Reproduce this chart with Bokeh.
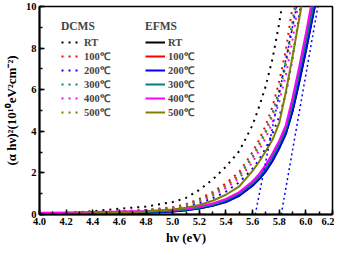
from bokeh.plotting import figure
from bokeh.models import Legend, LegendItem, Range1d, SingleIntervalTicker, PrintfTickFormatter
from bokeh.embed import file_html
from bokeh.resources import INLINE

X = [4.0, 4.2, 4.4, 4.6, 4.8, 5.0, 5.1, 5.2, 5.3, 5.4, 5.5, 5.6, 5.65, 5.7, 5.75,
     5.8, 5.85, 5.9, 5.95, 6.0, 6.05, 6.1]

labels = ["RT", "100℃", "200℃", "300℃", "400℃", "500℃"]
colors = ["#000000", "#ff0000", "#0000ff", "#008080", "#ff00ff", "#808000"]

dcms_rt = [0.0, 0.08, 0.16, 0.28, 0.38, 0.6, 0.8, 1.18, 1.68, 2.3, 3.05, 4.3, 5.2, 6.2, 7.5, 9.2, 11.2, 13, 15, 17, 19, 21]
dcms_100 = [0.02, 0.05, 0.09, 0.15, 0.22, 0.35, 0.5, 0.75, 1.08, 1.5, 2.05, 3.0, 3.6, 4.3, 5.2, 6.4, 7.9, 10.0, 12, 14, 16, 18]
dcms_200 = [0.01, 0.03, 0.06, 0.1, 0.16, 0.26, 0.36, 0.54, 0.78, 1.1, 1.55, 2.2, 2.65, 3.2, 3.9, 4.7, 5.8, 7.5, 9.6, 11.6, 13.6, 15.6]
dcms_300 = [0.02, 0.05, 0.08, 0.14, 0.21, 0.33, 0.46, 0.7, 1.0, 1.4, 1.92, 2.8, 3.4, 4.05, 4.9, 6.0, 7.4, 9.3, 11.3, 13.3, 15.3, 17.3]
dcms_400 = [0.04, 0.07, 0.1, 0.15, 0.2, 0.3, 0.42, 0.63, 0.9, 1.27, 1.75, 2.5, 3.1, 3.7, 4.45, 5.4, 6.7, 8.4, 10.4, 12.4, 14.4, 16.4]
dcms_500 = [0.03, 0.06, 0.09, 0.14, 0.2, 0.32, 0.45, 0.68, 0.97, 1.36, 1.86, 2.7, 3.3, 3.95, 4.75, 5.8, 7.2, 9.0, 11, 13, 15, 17]

efms_rt = [0.02, 0.03, 0.04, 0.06, 0.09, 0.14, 0.2, 0.29, 0.42, 0.6, 0.9, 1.38, 1.7, 2.08, 2.58, 3.18, 3.88, 4.95, 6.35, 7.85, 9.45, 11.0]
efms_100 = [0.05, 0.07, 0.08, 0.1, 0.13, 0.19, 0.25, 0.35, 0.49, 0.7, 1.02, 1.52, 1.86, 2.28, 2.82, 3.45, 4.15, 5.4, 6.9, 8.4, 10.0, 11.6]
efms_200 = [0.02, 0.03, 0.04, 0.06, 0.1, 0.15, 0.21, 0.3, 0.43, 0.62, 0.92, 1.4, 1.72, 2.1, 2.6, 3.2, 3.9, 5.0, 6.4, 7.9, 9.5, 11.1]
efms_300 = [0.05, 0.06, 0.07, 0.09, 0.12, 0.18, 0.24, 0.33, 0.47, 0.68, 1.0, 1.5, 1.83, 2.25, 2.78, 3.4, 4.1, 5.3, 6.8, 8.3, 9.85, 11.5]
efms_400 = [0.08, 0.1, 0.12, 0.14, 0.17, 0.22, 0.28, 0.38, 0.53, 0.75, 1.08, 1.6, 1.95, 2.4, 2.95, 3.55, 4.3, 5.6, 7.1, 8.7, 10.4, 12.2]
efms_500 = [0.03, 0.04, 0.06, 0.09, 0.14, 0.24, 0.33, 0.46, 0.66, 0.95, 1.35, 2.1, 2.55, 3.05, 3.6, 4.4, 5.9, 7.6, 9.4, 11.2, 13, 15]

tangent1_x = [5.62, 5.93]
tangent1_y = [0.0, 10.0]
tangent2_x = [5.815, 6.09]
tangent2_y = [0.0, 10.0]

dcms = [dcms_rt, dcms_100, dcms_200, dcms_300, dcms_400, dcms_500]
efms = [efms_rt, efms_100, efms_200, efms_300, efms_400, efms_500]

FONT = "Liberation Serif"

p = figure(width=334, height=250, output_backend="svg", toolbar_location=None,
           x_range=Range1d(4.0, 6.2), y_range=Range1d(0, 10),
           min_border_left=33, min_border_right=2, min_border_top=6, min_border_bottom=36)
p.xgrid.visible = False
p.ygrid.visible = False
p.outline_line_color = "black"
p.outline_line_width = 1.5

p.xaxis.ticker = SingleIntervalTicker(interval=0.2, num_minor_ticks=2)
p.yaxis.ticker = SingleIntervalTicker(interval=2, num_minor_ticks=2)
for ax in (p.xaxis, p.yaxis):
    ax.axis_line_width = 2
    ax.major_tick_in = 5
    ax.major_tick_out = 0
    ax.minor_tick_in = 3
    ax.minor_tick_out = 0
    ax.major_tick_line_width = 1.5
    ax.minor_tick_line_width = 1.5
    ax.major_label_text_font = FONT
    ax.major_label_text_font_style = "bold"
    ax.major_label_text_font_size = "10.5px"
    ax.major_label_text_color = "black"
    ax.axis_label_text_font = FONT
    ax.axis_label_text_font_style = "bold"
    ax.axis_label_text_font_size = "13px"
    ax.axis_label_text_color = "black"
p.xaxis.formatter = PrintfTickFormatter(format="%.1f")
p.xaxis.axis_label = "hν (eV)"
p.yaxis.axis_label = "(α hν)²(10¹⁰eV²cm⁻²)"
p.xaxis.axis_label_standoff = 2
p.yaxis.axis_label_standoff = 4
p.xaxis.major_label_standoff = 3
p.yaxis.major_label_standoff = 3

dash = "2 5"
d_items = []
for lab, col, ys in zip(labels, colors, dcms):
    r = p.line(X, ys, line_color=col, line_width=2, line_dash=dash)
    d_items.append(LegendItem(label=lab, renderers=[r]))
e_items = []
for lab, col, ys in zip(labels, colors, efms):
    r = p.line(X, ys, line_color=col, line_width=2)
    e_items.append(LegendItem(label=lab, renderers=[r]))

p.line(tangent1_x, tangent1_y, line_color="#0000ff", line_width=1.5, line_dash="2 3")
p.line(tangent2_x, tangent2_y, line_color="#0000ff", line_width=1.5, line_dash="2 3")

def style_legend(lg):
    lg.border_line_alpha = 0
    lg.background_fill_alpha = 0
    lg.padding = 0
    lg.margin = 0
    lg.spacing = 0
    lg.glyph_width = 20
    lg.glyph_height = 14
    lg.label_height = 14
    lg.label_standoff = 3
    lg.label_text_font = FONT
    lg.label_text_font_style = "bold"
    lg.label_text_font_size = "10.5px"
    lg.title_text_font = FONT
    lg.title_text_font_style = "bold"
    lg.title_text_font_size = "11.5px"
    lg.title_standoff = 3

lg1 = Legend(items=d_items, title="DCMS", location=(22, 95))
lg2 = Legend(items=e_items, title="EFMS", location=(106, 95))
style_legend(lg1)
style_legend(lg2)
p.add_layout(lg1, "center")
p.add_layout(lg2, "center")

open("out.html", "w").write(file_html(p, INLINE))
